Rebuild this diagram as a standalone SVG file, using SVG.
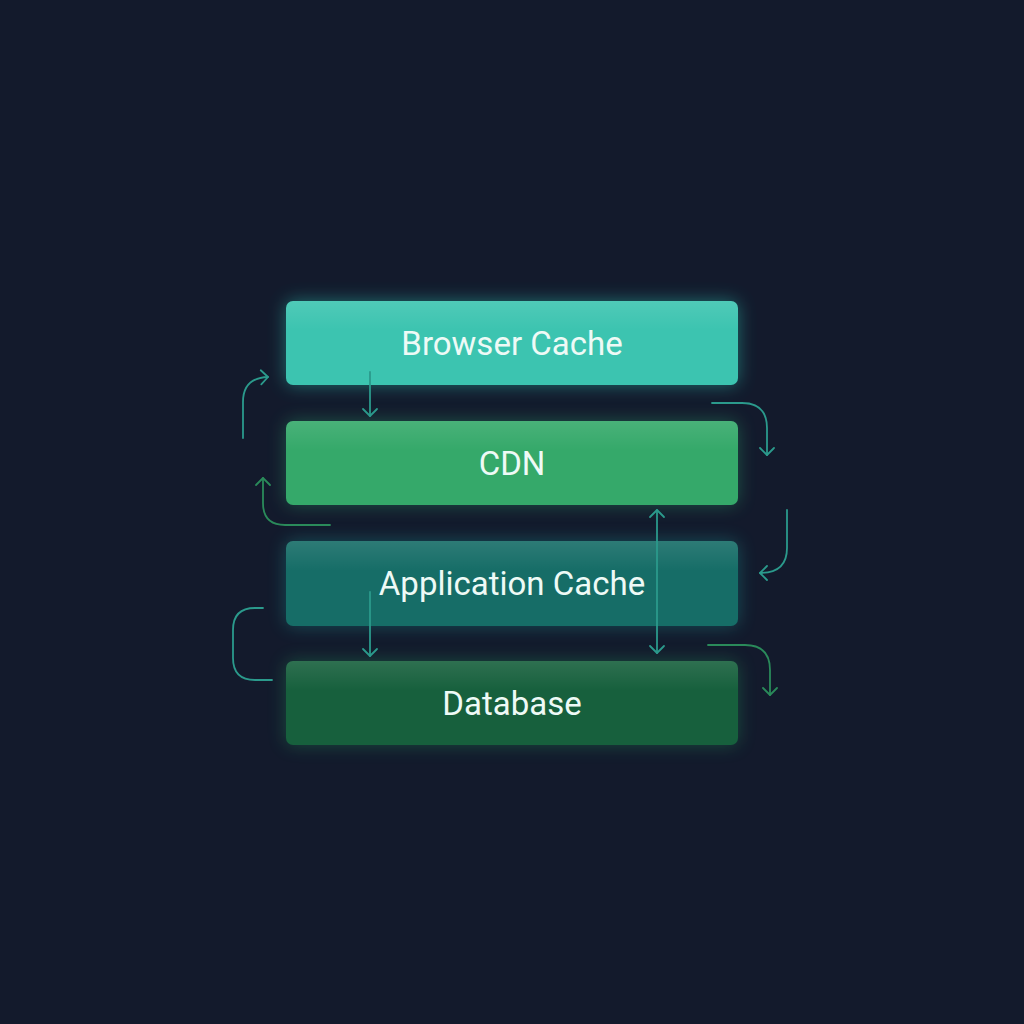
<svg xmlns="http://www.w3.org/2000/svg" width="1024" height="1024" viewBox="0 0 1024 1024">
<defs>
<style>
.lbl{font-family:Roboto,"Noto Sans","Liberation Sans",sans-serif;font-size:33px;fill:#eefaf6;text-anchor:middle;dominant-baseline:central}
.c{fill:none;stroke-width:1.8;stroke-linecap:round;stroke-linejoin:round}
.t{stroke:#2b9a8c}
.g{stroke:#2a8a5a}
</style>
<filter id="glow" x="-20%" y="-40%" width="140%" height="180%">
<feGaussianBlur stdDeviation="9"/>
</filter>
<linearGradient id="hl" x1="0" y1="0" x2="0" y2="1">
<stop offset="0" stop-color="#ffffff" stop-opacity="0.10"/>
<stop offset="0.35" stop-color="#ffffff" stop-opacity="0"/>
</linearGradient>
<marker id="at" viewBox="-10 -10 20 20" refX="0" refY="0" markerWidth="20" markerHeight="20" orient="auto" markerUnits="userSpaceOnUse">
<path d="M-7,-7 L0,0 L-7,7" fill="none" stroke="#2b9a8c" stroke-width="1.8" stroke-linecap="round" stroke-linejoin="round"/>
</marker>
<marker id="ag" viewBox="-10 -10 20 20" refX="0" refY="0" markerWidth="20" markerHeight="20" orient="auto" markerUnits="userSpaceOnUse">
<path d="M-7,-7 L0,0 L-7,7" fill="none" stroke="#2a8a5a" stroke-width="1.8" stroke-linecap="round" stroke-linejoin="round"/>
</marker>
<marker id="ats" viewBox="-10 -10 20 20" refX="0" refY="0" markerWidth="20" markerHeight="20" orient="auto-start-reverse" markerUnits="userSpaceOnUse">
<path d="M-7,-7 L0,0 L-7,7" fill="none" stroke="#2b9a8c" stroke-width="1.8" stroke-linecap="round" stroke-linejoin="round"/>
</marker>
</defs>
<rect width="1024" height="1024" fill="#131a2c"/>

<g id="node-browser">
<rect x="286" y="301" width="452" height="84" rx="7" fill="#2fd3bd" opacity="0.45" filter="url(#glow)"/>
<rect x="286" y="301" width="452" height="84" rx="7" fill="#3cc4b0"/>
<rect x="286" y="301" width="452" height="84" rx="7" fill="url(#hl)"/>
<text class="lbl" x="512" y="343">Browser Cache</text>
</g>
<g id="node-cdn">
<rect x="286" y="421" width="452" height="84" rx="7" fill="#30c07a" opacity="0.35" filter="url(#glow)"/>
<rect x="286" y="421" width="452" height="84" rx="7" fill="#35a96a"/>
<rect x="286" y="421" width="452" height="84" rx="7" fill="url(#hl)"/>
<text class="lbl" x="512" y="463">CDN</text>
</g>
<g id="node-app">
<rect x="286" y="541" width="452" height="85" rx="7" fill="#1fb0a8" opacity="0.35" filter="url(#glow)"/>
<rect x="286" y="541" width="452" height="85" rx="7" fill="#166d67"/>
<rect x="286" y="541" width="452" height="85" rx="7" fill="url(#hl)"/>
<text class="lbl" x="512" y="583">Application Cache</text>
</g>
<g id="node-db">
<rect x="286" y="661" width="452" height="84" rx="7" fill="#20a860" opacity="0.35" filter="url(#glow)"/>
<rect x="286" y="661" width="452" height="84" rx="7" fill="#17603d"/>
<rect x="286" y="661" width="452" height="84" rx="7" fill="url(#hl)"/>
<text class="lbl" x="512" y="703">Database</text>
</g>

<g id="connectors">
<path class="c t" d="M370,372 L370,416" marker-end="url(#at)"/>
<path class="c t" d="M243,438 L243,402 Q243,378 268,377" marker-end="url(#at)"/>
<path class="c g" d="M330,525 L285,525 Q263,525 263,503 L263,478" marker-end="url(#ag)"/>
<path class="c t" d="M712,403 L742,403 Q767,403 767,428 L767,455" marker-end="url(#at)"/>
<path class="c t" d="M787,510 L787,548 Q787,573 760,573" marker-end="url(#at)"/>
<path class="c g" d="M708,645 L745,645 Q770,645 770,670 L770,695" marker-end="url(#ag)"/>
<path class="c t" d="M657,653 L657,510" marker-start="url(#ats)" marker-end="url(#ats)"/>
<path class="c t" d="M370,592 L370,656" marker-end="url(#at)"/>
<path class="c t" d="M263,608 L255,608 Q233,608 233,630 L233,658 Q233,680 255,680 L272,680"/>
</g>
</svg>
